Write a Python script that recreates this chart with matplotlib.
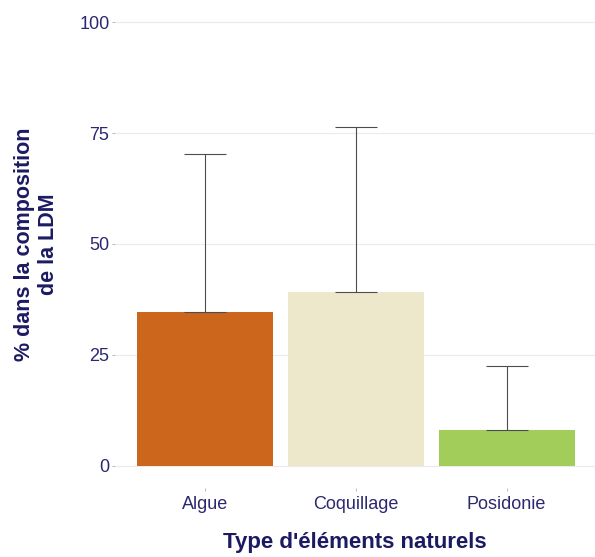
import numpy as np
import matplotlib.pyplot as plt

# data
categories = ["Algue", "Coquillage", "Posidonie"]
means = [34.7, 39.2, 8.1]
upper = [70.3, 76.4, 22.5]   # top of the error bar
bar_colors = ["#CD661D", "#EDE7CB", "#A2CD5A"]
yticks = [0, 25, 50, 75, 100]

TICK_COLOR = "#2b2870"
TITLE_COLOR = "#1c1a62"

plt.rcParams['font.family'] = ['Liberation Sans', 'DejaVu Sans']

fig = plt.figure(figsize=(5.95, 5.57), dpi=100, facecolor="white")
ax = fig.add_axes([115 / 595, 69 / 557, 480 / 595, 488 / 557])

x = np.arange(len(categories))
ax.bar(x, means, width=0.9, color=bar_colors, zorder=2)

err = np.array(upper) - np.array(means)
ax.errorbar(x, means, yerr=[np.zeros(len(x)), err], fmt="none",
            ecolor="#4d4d4d", elinewidth=0.8, capsize=15, capthick=0.8, zorder=3)

ax.set_xlim(-0.599, 2.586)
ax.set_ylim(-5, 105)
ax.set_yticks(yticks)
ax.set_xticks(x)
ax.set_xticklabels(categories)

ax.grid(axis="y", color="#ebebeb", linewidth=0.8, zorder=0)
ax.grid(axis="x", visible=False)
for s in ax.spines.values():
    s.set_visible(False)

ax.tick_params(axis="both", colors="#b0b0b0", labelcolor=TICK_COLOR,
               labelsize=13, length=2.5, width=0.6)
ax.tick_params(axis="y", pad=1.5)
ax.tick_params(axis="x", pad=3)

ax.set_xlabel("Type d'éléments naturels", fontsize=16, fontweight="bold",
              color=TITLE_COLOR, labelpad=14)
ax.set_ylabel("% dans la composition\nde la LDM", fontsize=15.5, fontweight="bold",
              color=TITLE_COLOR, linespacing=1.2, va="center")
ax.yaxis.set_label_coords(-0.163, 0.5)

fig.savefig("out.png", dpi=100, facecolor="white")
